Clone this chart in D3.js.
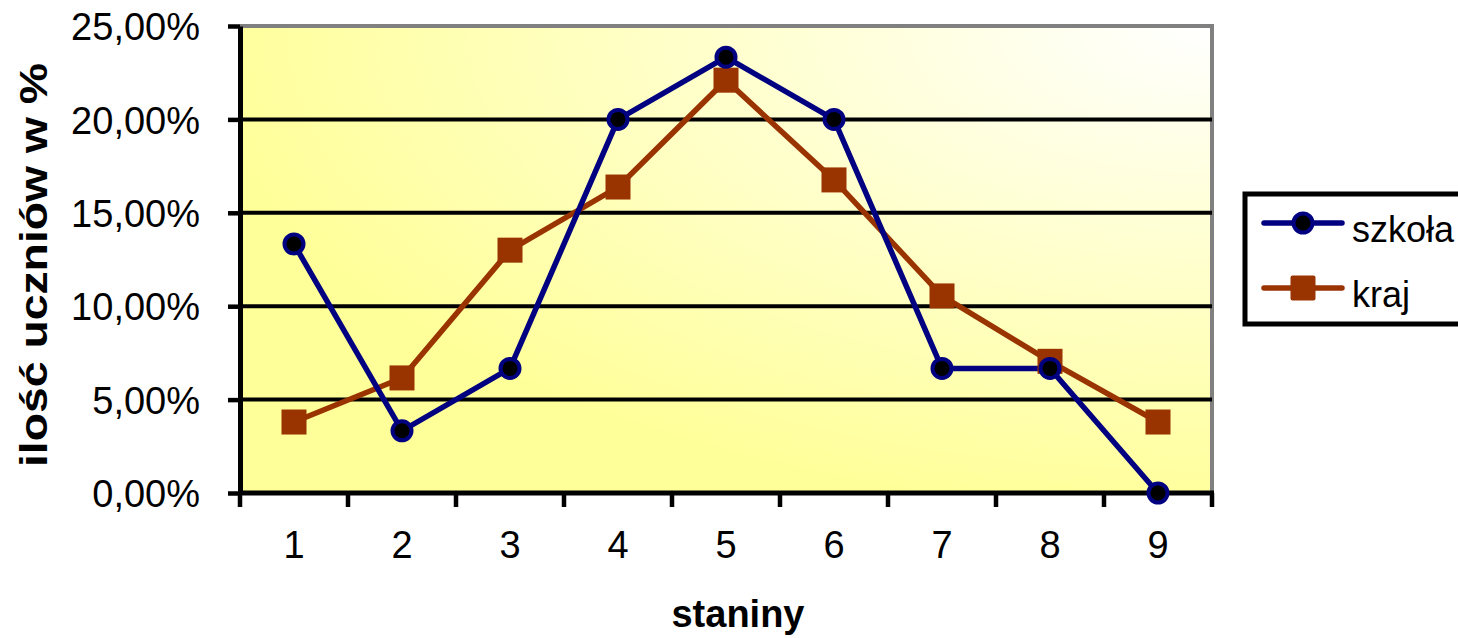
<!DOCTYPE html>
<html>
<head>
<meta charset="utf-8">
<script src="https://cdn.jsdelivr.net/npm/d3@7"></script>
<style>
  body { margin: 0; background: #fff; overflow: hidden; }
  svg { display: block; font-family: "Liberation Sans", Arial, sans-serif; }
</style>
</head>
<body>
<div id="chart"></div>
<script>
var categories = ["1", "2", "3", "4", "5", "6", "7", "8", "9"];
var szkola = [13.33, 3.33, 6.67, 20.0, 23.33, 20.0, 6.67, 6.67, 0.0];
var kraj = [3.8, 6.16, 13.0, 16.38, 22.1, 16.76, 10.55, 7.05, 3.8];
var yTicks = [0, 5, 10, 15, 20, 25];
var yTickLabels = ["0,00%", "5,00%", "10,00%", "15,00%", "20,00%", "25,00%"];
var seriesNames = ["szkoła", "kraj"];

var W = 1458, H = 638;
var plot = {left: 240, right: 1212, top: 26, bottom: 493};

var svg = d3.select("#chart").append("svg")
    .attr("width", W)
    .attr("height", H);

var xScale = d3.scaleBand().domain(categories).range([plot.left, plot.right]),
    yScale = d3.scaleLinear().domain([0, 25]).range([plot.bottom, plot.top]);

// background gradient of the plot area (white in the upper right corner)
var defs = svg.append("defs");
var grad = defs.append("radialGradient")
    .attr("id", "bg")
    .attr("cx", 1).attr("cy", 0).attr("r", 1.05)
    .attr("fx", 1).attr("fy", 0);
grad.append("stop").attr("offset", "0%").attr("stop-color", "#ffffff");
grad.append("stop").attr("offset", "100%").attr("stop-color", "#ffff99");

svg.append("rect")
    .attr("x", plot.left)
    .attr("y", plot.top)
    .attr("width", plot.right - plot.left)
    .attr("height", plot.bottom - plot.top)
    .attr("fill", "url(#bg)");

// top and right border, grey
svg.append("path")
    .attr("d", "M" + plot.left + "," + plot.top + "H" + plot.right + "V" + plot.bottom)
    .attr("fill", "none")
    .attr("stroke", "#808080")
    .attr("stroke-width", 4);

// gridlines
svg.append("g")
    .selectAll("line")
    .data(yTicks.filter(function(d) { return d > 0 && d < 25; }))
    .enter().append("line")
    .attr("x1", plot.left)
    .attr("x2", plot.right)
    .attr("y1", function(d) { return yScale(d); })
    .attr("y2", function(d) { return yScale(d); })
    .attr("stroke", "#000")
    .attr("stroke-width", 4);

// axes
var yAxis = d3.axisLeft(yScale)
    .tickValues(yTicks)
    .tickSize(12)
    .tickSizeOuter(0)
    .tickPadding(28)
    .tickFormat(function(d, i) { return yTickLabels[i]; });

var gy = svg.append("g")
    .attr("transform", "translate(" + plot.left + ",0)")
    .call(yAxis);
gy.select(".domain").attr("stroke", "#000").attr("stroke-width", 5);
gy.selectAll(".tick line").attr("stroke", "#000").attr("stroke-width", 4.5);
gy.selectAll(".tick text")
    .attr("font-size", 38)
    .attr("font-family", "Liberation Sans, Arial, sans-serif")
    .attr("fill", "#000")
    .attr("dy", "0.36em");

var xAxis = d3.axisBottom(xScale).tickSize(0).tickPadding(0);
var gx = svg.append("g")
    .attr("transform", "translate(0," + plot.bottom + ")")
    .call(xAxis);
gx.select(".domain").remove();
gx.selectAll(".tick text")
    .attr("font-size", 38)
    .attr("font-family", "Liberation Sans, Arial, sans-serif")
    .attr("fill", "#000")
    .attr("dy", 0)
    .attr("y", 65);

// bottom axis line and ticks at band edges
var edges = categories.map(function(c) { return xScale(c); }).concat([plot.right]);
svg.append("g")
    .selectAll("line")
    .data(edges)
    .enter().append("line")
    .attr("x1", function(d) { return d; })
    .attr("x2", function(d) { return d; })
    .attr("y1", plot.bottom)
    .attr("y2", plot.bottom + 14)
    .attr("stroke", "#000")
    .attr("stroke-width", 4.5);
svg.append("line")
    .attr("x1", plot.left - 2)
    .attr("x2", plot.right + 2)
    .attr("y1", plot.bottom)
    .attr("y2", plot.bottom)
    .attr("stroke", "#000")
    .attr("stroke-width", 5);

// axis titles
svg.append("text")
    .attr("x", 738)
    .attr("y", 627)
    .attr("text-anchor", "middle")
    .attr("font-size", 38)
    .attr("font-weight", "bold")
    .text("staniny");

svg.append("text")
    .attr("transform", "translate(47,265) rotate(-90)")
    .attr("text-anchor", "middle")
    .attr("font-size", 38)
    .attr("font-weight", "bold")
    .attr("textLength", 404)
    .attr("lengthAdjust", "spacingAndGlyphs")
    .text("ilość uczniów w %");

// series
function cx(d, i) { return xScale(categories[i]) + xScale.bandwidth() / 2; }

var line = d3.line()
    .x(function(d, i) { return cx(d, i); })
    .y(function(d) { return yScale(d); });

svg.append("path")
    .datum(kraj)
    .attr("d", line)
    .attr("fill", "none")
    .attr("stroke", "#993300")
    .attr("stroke-width", 5.5);

svg.append("path")
    .datum(szkola)
    .attr("d", line)
    .attr("fill", "none")
    .attr("stroke", "#000080")
    .attr("stroke-width", 5.5);

svg.append("g")
    .selectAll("rect")
    .data(kraj)
    .enter().append("rect")
    .attr("x", function(d, i) { return cx(d, i) - 12.5; })
    .attr("y", function(d) { return yScale(d) - 12.5; })
    .attr("width", 25)
    .attr("height", 25)
    .attr("fill", "#993300");

svg.append("g")
    .selectAll("circle")
    .data(szkola)
    .enter().append("circle")
    .attr("cx", function(d, i) { return cx(d, i); })
    .attr("cy", function(d) { return yScale(d); })
    .attr("r", 9.5)
    .attr("fill", "#000")
    .attr("stroke", "#000080")
    .attr("stroke-width", 4);

// legend
var legend = svg.append("g");
legend.append("rect")
    .attr("x", 1245)
    .attr("y", 194)
    .attr("width", 260)
    .attr("height", 130)
    .attr("fill", "#fff")
    .attr("stroke", "#000")
    .attr("stroke-width", 5);

var legendColors = ["#000080", "#993300"];
var legendY = [223, 288];
seriesNames.forEach(function(name, i) {
  legend.append("line")
      .attr("x1", 1264).attr("x2", 1342)
      .attr("y1", legendY[i]).attr("y2", legendY[i])
      .attr("stroke", legendColors[i])
      .attr("stroke-width", 5.5)
      .attr("stroke-linecap", "round");
  if (i === 0) {
    legend.append("circle")
        .attr("cx", 1303).attr("cy", legendY[i]).attr("r", 9.5)
        .attr("fill", "#000")
        .attr("stroke", legendColors[i])
        .attr("stroke-width", 4);
  } else {
    legend.append("rect")
        .attr("x", 1290.5).attr("y", legendY[i] - 12.5)
        .attr("width", 25).attr("height", 25)
        .attr("rx", 2)
        .attr("fill", legendColors[i]);
  }
  legend.append("text")
      .attr("x", 1352)
      .attr("y", legendY[i] + 19)
      .attr("font-size", 36)
      .text(name);
});
</script>
</body>
</html>
